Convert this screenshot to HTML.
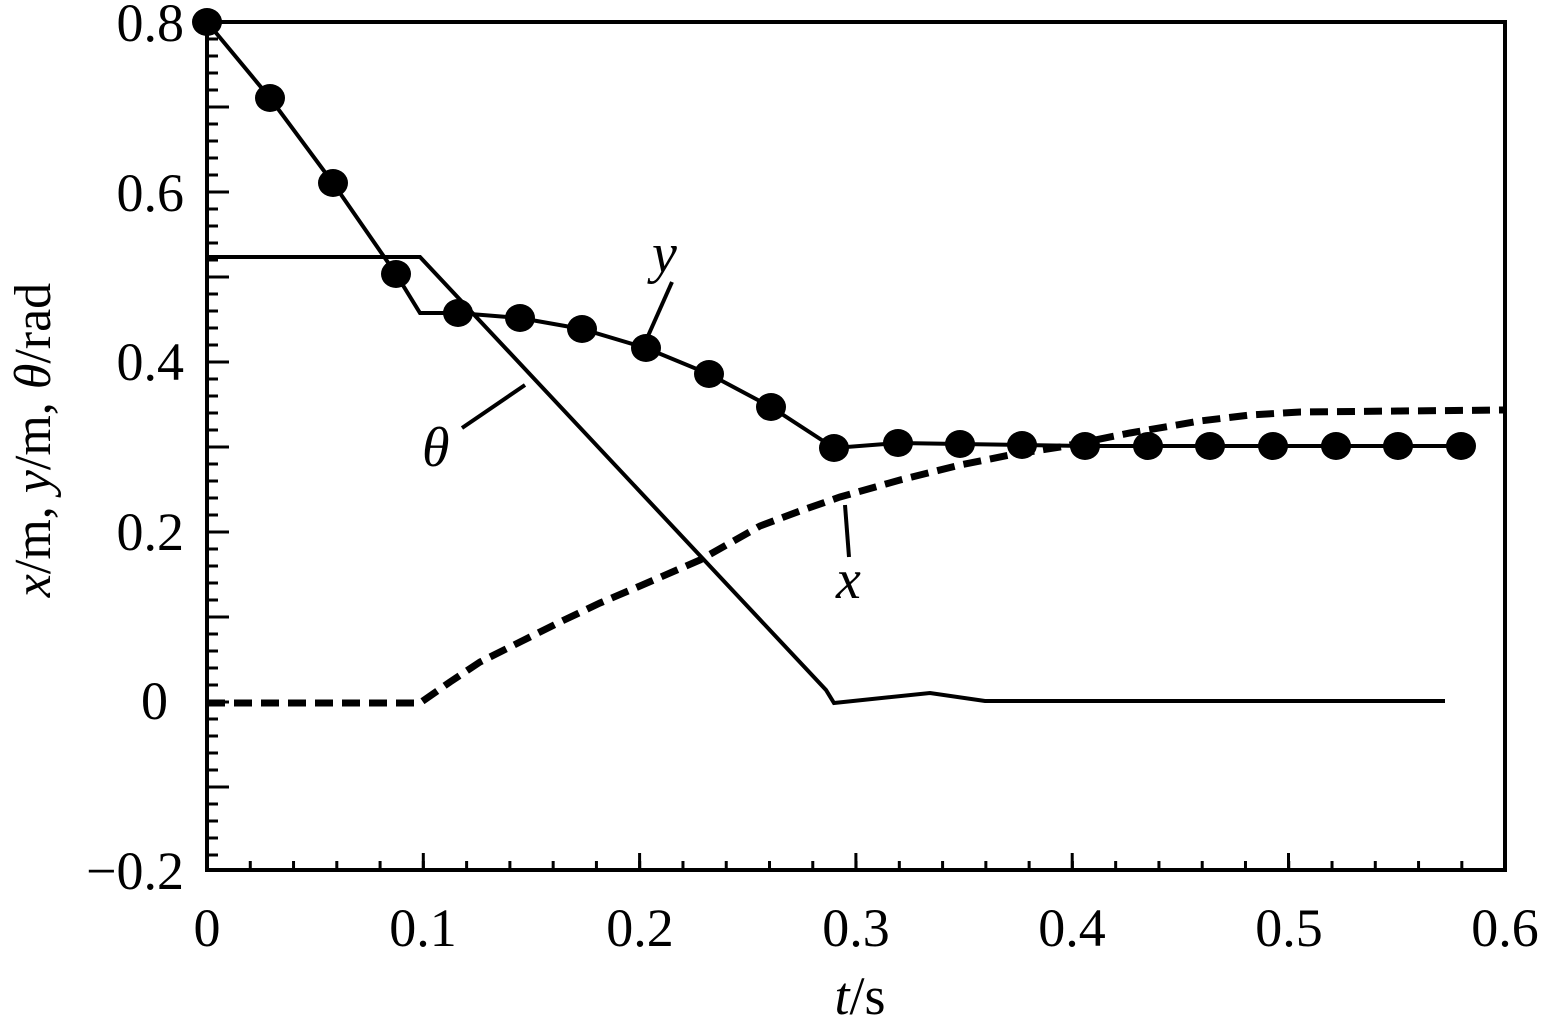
<!DOCTYPE html>
<html><head><style>body{margin:0;background:#fff}</style></head><body>
<svg width="1545" height="1019" viewBox="0 0 1545 1019" xmlns="http://www.w3.org/2000/svg" font-family="'Liberation Serif', serif">
<rect width="1545" height="1019" fill="#fff"/>
<line x1="212.5" y1="20.5" x2="212.5" y2="872" stroke="#000" stroke-width="11" stroke-dasharray="3 14"/>
<line x1="218" y1="20.5" x2="218" y2="872" stroke="#000" stroke-width="22" stroke-dasharray="3 82"/>
<line x1="205.5" y1="865.5" x2="1508" y2="865.5" stroke="#000" stroke-width="9" stroke-dasharray="3 40.27"/>
<line x1="205.5" y1="861.5" x2="1508" y2="861.5" stroke="#000" stroke-width="17" stroke-dasharray="3 213.3"/>
<rect x="207" y="22" width="1298" height="848" fill="none" stroke="#000" stroke-width="4"/>
<g font-size="54" text-anchor="end">
<text x="184" y="41">0.8</text><text x="184" y="211">0.6</text><text x="184" y="380">0.4</text>
<text x="184" y="550">0.2</text><text x="168" y="719">0</text><text x="184" y="889">−0.2</text>
</g>
<g font-size="54" text-anchor="middle">
<text x="207" y="946">0</text><text x="423" y="946">0.1</text><text x="640" y="946">0.2</text>
<text x="856" y="946">0.3</text><text x="1072" y="946">0.4</text><text x="1289" y="946">0.5</text><text x="1505" y="946">0.6</text>
</g>
<text x="860" y="1014" font-size="54" text-anchor="middle"><tspan font-style="italic">t</tspan>/s</text>
<text transform="translate(50,440) rotate(-90)" font-size="52" text-anchor="middle"><tspan font-style="italic">x</tspan>/m, <tspan font-style="italic">y</tspan>/m, <tspan font-style="italic">θ</tspan>/rad</text>
<polyline fill="none" stroke="#000" stroke-width="4" points="207,257 420,257 826,690 834,703 930,693 985,701 1445,701"/>
<polyline fill="none" stroke="#000" stroke-width="7" stroke-dasharray="18 9" points="207,703 420,703 450,682 480,662 520,642 560,622 600,603 640,586 700,560 730,543 760,526 800,511 840,497 900,480 960,465 1010,455 1060,447 1130,433 1200,421 1250,415 1300,412 1400,411 1505,410"/>
<polyline fill="none" stroke="#000" stroke-width="4" points="207,22 270,98 333,183 396,274 420,313 458,313 520,318 582,329 646,348 709,374 771,407 834,448 898,443 960,444 1022,445 1085,446 1148,446 1210,446 1273,446 1336,446 1398,446 1461,446"/>
<g fill="#000">
<ellipse cx="207" cy="22" rx="15" ry="14"/><ellipse cx="270" cy="98" rx="15" ry="14"/><ellipse cx="333" cy="183" rx="15" ry="14"/>
<ellipse cx="396" cy="274" rx="15" ry="14"/><ellipse cx="458" cy="313" rx="15" ry="14"/><ellipse cx="520" cy="318" rx="15" ry="14"/>
<ellipse cx="582" cy="329" rx="15" ry="14"/><ellipse cx="646" cy="348" rx="15" ry="14"/><ellipse cx="709" cy="374" rx="15" ry="14"/>
<ellipse cx="771" cy="407" rx="15" ry="14"/><ellipse cx="834" cy="448" rx="15" ry="14"/><ellipse cx="898" cy="443" rx="15" ry="14"/>
<ellipse cx="960" cy="444" rx="15" ry="14"/><ellipse cx="1022" cy="445" rx="15" ry="14"/><ellipse cx="1085" cy="446" rx="15" ry="14"/>
<ellipse cx="1148" cy="446" rx="15" ry="14"/><ellipse cx="1210" cy="446" rx="15" ry="14"/><ellipse cx="1273" cy="446" rx="15" ry="14"/>
<ellipse cx="1336" cy="446" rx="15" ry="14"/><ellipse cx="1398" cy="446" rx="15" ry="14"/><ellipse cx="1461" cy="446" rx="15" ry="14"/>
</g>
<g stroke="#000" stroke-width="4">
<line x1="648" y1="336" x2="672" y2="282"/>
<line x1="462" y1="428" x2="525" y2="385"/>
<line x1="845" y1="505" x2="849" y2="557"/>
</g>
<g font-size="56" font-style="italic">
<text x="652" y="272">y</text><text x="422" y="466">θ</text><text x="836" y="598">x</text>
</g>
</svg>
</body></html>
